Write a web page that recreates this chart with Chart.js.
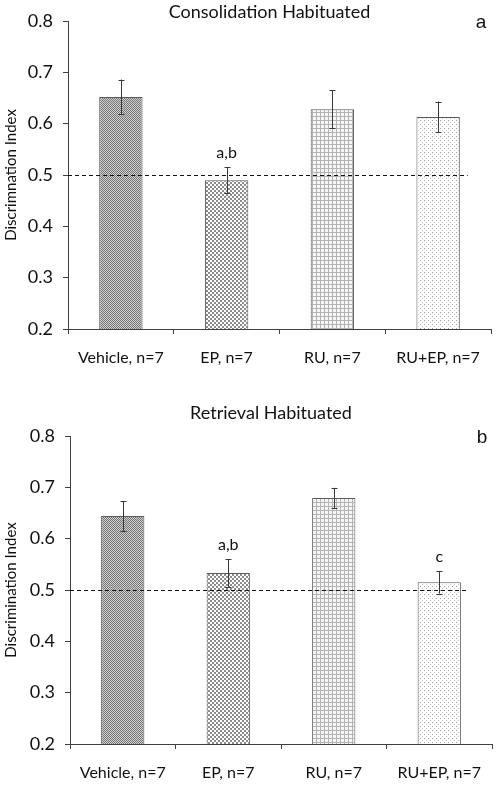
<!DOCTYPE html>
<html>
<head>
<meta charset="utf-8">
<script src="https://cdn.jsdelivr.net/npm/chart.js@4.4.1/dist/chart.umd.min.js"></script>
<style>
  html, body { margin: 0; padding: 0; background: #ffffff; }
  #wrap { width: 498px; height: 785px; }
  .box { position: relative; width: 498px; }
</style>
</head>
<body>
<div id="wrap">
  <div class="box" style="height:390px"><canvas id="consolidationChart"></canvas></div>
  <div class="box" style="height:395px"><canvas id="retrievalChart"></canvas></div>
</div>
<script>
// ---- data ----
const categories = ["Vehicle, n=7", "EP, n=7", "RU, n=7", "RU+EP, n=7"];

const consolidationMeans = [0.652, 0.490, 0.628, 0.613];
const consolidationErrors = [0.034, 0.025, 0.037, 0.030];
const consolidationMarks = ["", "a,b", "", ""];

const retrievalMeans = [0.644, 0.533, 0.679, 0.515];
const retrievalErrors = [0.029, 0.027, 0.020, 0.022];
const retrievalMarks = ["", "a,b", "", "c"];

const chanceLevel = 0.5;
const yMin = 0.2;
const yMax = 0.8;
const yStep = 0.1;

const FONT = "Lato, 'Open Sans', sans-serif";

// ---- fill patterns (one per group) ----
function makePattern(size, bg, dots) {
    const c = document.createElement("canvas");
    c.width = size;
    c.height = size;
    const g = c.getContext("2d");
    g.fillStyle = bg;
    g.fillRect(0, 0, size, size);
    dots.forEach(d => {
        g.fillStyle = d[2];
        g.fillRect(d[0], d[1], d[3] || 1, d[4] || 1);
    });
    return g.createPattern(c, "repeat");
}

function groupPatterns() {
    return [
        // fine dark checker
        makePattern(2, "#cccccc", [[0, 0, "#7a7a7a"], [1, 1, "#7a7a7a"]]),
        // coarse checker / cross hatch
        makePattern(4, "#ffffff", [[0, 0, "#8c8c8c", 2, 2], [2, 2, "#8c8c8c", 2, 2]]),
        // square grid
        makePattern(4, "#f6f6f6", [[0, 0, "#b4b4b4", 4, 1], [0, 0, "#b4b4b4", 1, 4]]),
        // sparse dots
        makePattern(4, "#ffffff", [[0, 0, "#a0a0a0"], [2, 2, "#c8c8c8"]])
    ];
}

// ---- plugins ----
const errorBarPlugin = {
    id: "errorBars",
    afterDatasetsDraw(chart, args, opts) {
        const ctx = chart.ctx;
        const y = chart.scales.y;
        const meta = chart.getDatasetMeta(0);
        const means = chart.data.datasets[0].data;
        ctx.save();
        ctx.strokeStyle = "#3a3a3a";
        ctx.lineWidth = 1;
        meta.data.forEach((bar, i) => {
            const x = Math.round(bar.x) + 0.5;
            const top = y.getPixelForValue(means[i] + opts.errors[i]);
            const bot = y.getPixelForValue(means[i] - opts.errors[i]);
            ctx.beginPath();
            ctx.moveTo(x, top);
            ctx.lineTo(x, bot);
            ctx.moveTo(x - 3, Math.round(top) + 0.5);
            ctx.lineTo(x + 3, Math.round(top) + 0.5);
            ctx.moveTo(x - 3, Math.round(bot) + 0.5);
            ctx.lineTo(x + 3, Math.round(bot) + 0.5);
            ctx.stroke();
            if (opts.marks[i]) {
                ctx.fillStyle = "#111111";
                ctx.font = "16px " + FONT;
                ctx.textAlign = "center";
                ctx.textBaseline = "middle";
                ctx.fillText(opts.marks[i], bar.x, top - 14);
            }
        });
        ctx.restore();
    }
};

const chanceLinePlugin = {
    id: "chanceLine",
    afterDatasetsDraw(chart, args, opts) {
        const ctx = chart.ctx;
        const area = chart.chartArea;
        const x = chart.scales.x;
        const yPix = Math.round(chart.scales.y.getPixelForValue(opts.value)) + 0.5;
        const catW = (area.right - area.left) / categories.length;
        const end = x.getPixelForValue(categories.length - 1) + catW * 0.28;
        ctx.save();
        ctx.strokeStyle = "#111111";
        ctx.lineWidth = 1;
        ctx.setLineDash([4, 3]);
        ctx.beginPath();
        ctx.moveTo(area.left, yPix);
        ctx.lineTo(end, yPix);
        ctx.stroke();
        ctx.restore();
    }
};

const panelTextPlugin = {
    id: "panelText",
    afterDraw(chart, args, opts) {
        const ctx = chart.ctx;
        const area = chart.chartArea;
        ctx.save();
        ctx.fillStyle = "#111111";
        ctx.textBaseline = "middle";
        ctx.textAlign = "center";
        ctx.font = "18px " + FONT;
        ctx.fillText(opts.title, (area.left + area.right) / 2 - 10, area.top - opts.titleGap);
        ctx.font = "19px 'Liberation Sans', Arial, sans-serif";
        ctx.fillText(opts.letter, area.right - 10, area.top + opts.letterOffset);
        ctx.restore();
    }
};

// ---- chart builder ----
function drawPanel(canvasId, means, errors, marks, cfg) {
    const ctx = document.getElementById(canvasId).getContext("2d");
    return new Chart(ctx, {
        type: "bar",
        data: {
            labels: categories,
            datasets: [{
                data: means,
                backgroundColor: groupPatterns(),
                borderColor: "#5a5a5a",
                borderWidth: 1,
                borderSkipped: false,
                barPercentage: 0.41,
                categoryPercentage: 1.0
            }]
        },
        options: {
            responsive: true,
            maintainAspectRatio: false,
            animation: false,
            layout: {
                padding: { top: cfg.padTop, right: cfg.padRight, left: 0, bottom: 0 }
            },
            plugins: {
                legend: { display: false },
                tooltip: { enabled: false },
                title: { display: false },
                errorBars: { errors: errors, marks: marks },
                chanceLine: { value: chanceLevel },
                panelText: { title: cfg.title, letter: cfg.letter, titleGap: cfg.titleGap, letterOffset: cfg.letterOffset }
            },
            scales: {
                x: {
                    grid: {
                        display: true,
                        drawOnChartArea: false,
                        drawTicks: true,
                        tickLength: 5,
                        offset: true,
                        color: "#404040"
                    },
                    border: { display: true, color: "#404040", width: 1 },
                    ticks: {
                        color: "#111111",
                        font: { family: FONT, size: 16 },
                        padding: 14,
                        maxRotation: 0,
                        autoSkip: false
                    },
                    afterFit(scale) { scale.height = cfg.xHeight; }
                },
                y: {
                    min: yMin,
                    max: yMax,
                    grid: {
                        display: true,
                        drawOnChartArea: false,
                        drawTicks: true,
                        tickLength: 5,
                        color: "#404040"
                    },
                    border: { display: true, color: "#404040", width: 1 },
                    ticks: {
                        stepSize: yStep,
                        color: "#111111",
                        font: { family: FONT, size: 18 },
                        padding: 10,
                        callback: v => Number(v).toFixed(1)
                    },
                    title: {
                        display: true,
                        text: cfg.yTitle,
                        color: "#111111",
                        font: { family: FONT, size: 15 },
                        padding: { top: 2, bottom: 0 }
                    },
                    afterFit(scale) { scale.width = cfg.yWidth; }
                }
            }
        },
        plugins: [errorBarPlugin, chanceLinePlugin, panelTextPlugin]
    });
}

drawPanel("consolidationChart", consolidationMeans, consolidationErrors, consolidationMarks, {
    title: "Consolidation Habituated",
    letter: "a",
    yTitle: "Discrimnation Index",
    padTop: 21,
    padRight: 7,
    xHeight: 61,
    yWidth: 68,
    titleGap: 9,
    letterOffset: 2
});

drawPanel("retrievalChart", retrievalMeans, retrievalErrors, retrievalMarks, {
    title: "Retrieval Habituated",
    letter: "b",
    yTitle: "Discrimination Index",
    padTop: 46,
    padRight: 6,
    xHeight: 41,
    yWidth: 70,
    titleGap: 23,
    letterOffset: 2
});
</script>
</body>
</html>
